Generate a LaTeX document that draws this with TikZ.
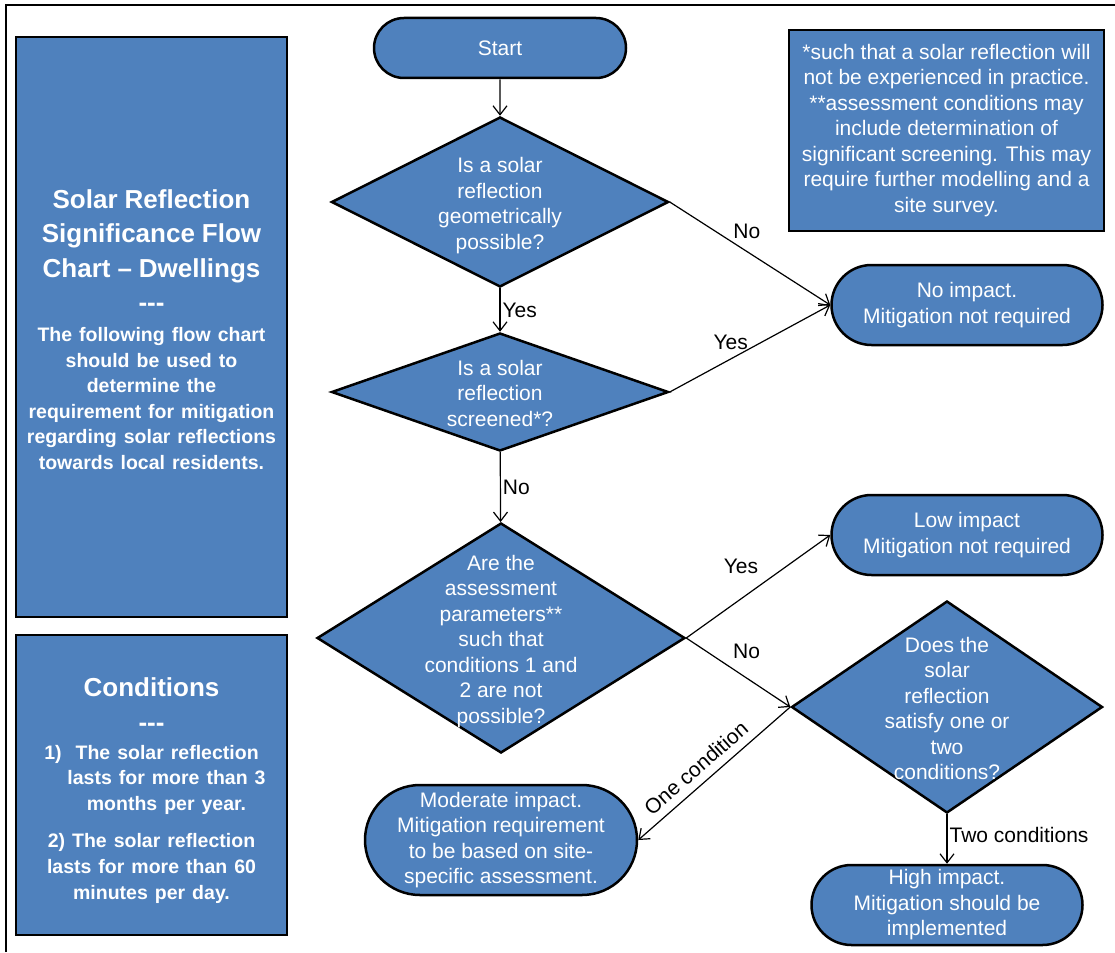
\documentclass[tikz,border=0pt]{standalone}
\usepackage{fontspec}
\setmainfont{Liberation Sans}
\usetikzlibrary{arrows.meta, shapes.geometric, shapes.misc, positioning}

\definecolor{boxblue}{HTML}{4F81BD}
\newcommand{\bodyfont}{\fontsize{21}{25.5}\selectfont}
\newcommand{\headfont}{\bfseries\fontsize{26}{34.5}\selectfont}
\newcommand{\sidefont}{\bfseries\fontsize{19.5}{25.6}\selectfont}
\newcommand{\qtext}[1]{\smash{\raisebox{-9pt}{\begin{tabular}{@{}c@{}}#1\end{tabular}}}}

\begin{document}
\begin{tikzpicture}[x=1pt, y=-1pt, font=\bodyfont,
    blk/.style={draw=black, line width=2.5pt, fill=boxblue, text=white, align=center},
    term/.style={blk, rounded rectangle, minimum width=271pt, minimum height=80pt, inner sep=0pt},
    decide/.style={blk, diamond, inner sep=0pt},
    panel/.style={blk, rectangle, inner sep=0pt},
    arr/.style={line width=1.2pt, -{Straight Barb[length=9pt,width=14pt]}},
    lbl/.style={text=black, inner sep=2pt}]
    \useasboundingbox (0,0) rectangle (1115,952);
    % Cadre
    \draw[line width=2pt] (6,952) -- (6,5) -- (1115,5);

    % Panneaux
    \node[panel, minimum width=271pt, minimum height=580pt, text width=265pt] (title) at (151.5,327)
        {{\headfont \rule{0pt}{24pt}Solar Reflection\\ Significance Flow\\ Chart – Dwellings\\ -{}-{}-\par}\vspace{4pt}
         {\sidefont The following flow chart\\ should be used to\\ determine the\\ requirement for mitigation\\ regarding solar reflections\\ towards local residents.\par}};
    \node[panel, minimum width=271pt, minimum height=300pt, text width=265pt] (cond) at (151.5,785)
        {{\headfont \rule{0pt}{30pt}Conditions\\ -{}-{}-\par}\vspace{2pt}
         {\sidefont 1)\ \ The solar reflection\\ \hspace*{30pt}lasts for more than 3\\ \hspace*{30pt}months per year.\par}\vspace{12pt}
         {\sidefont 2) The solar reflection\\ lasts for more than 60\\ minutes per day.\par}};
    \node[panel, minimum width=315pt, minimum height=201pt] (note) at (946.5,130.5)
        {*such that a solar reflection will\\ not be experienced in practice.\\ **assessment conditions may\\ include determination of\\ significant screening. This may\\ require further modelling and a\\ site survey.};

    % Noeuds du diagramme
    \node[term, minimum width=252pt, minimum height=60pt] (start) at (500,48) {Start};
    \node[decide, minimum width=337pt, minimum height=170pt] (geom) at (500,202)
        {\qtext{Is a solar\\ reflection\\ geometrically\\ possible?}};
    \node[decide, minimum width=337pt, minimum height=118pt] (screen) at (500,392)
        {\qtext{Is a solar\\ reflection\\ screened*?}};
    \node[decide, minimum width=368pt, minimum height=230pt] (param) at (501,638)
        {\qtext{Are the\\ assessment\\ parameters**\\ such that\\ conditions 1 and\\ 2 are not\\ possible?}};
    \node[decide, minimum width=311pt, minimum height=212pt] (sat) at (947,707)
        {\qtext{Does the\\ solar\\ reflection\\ satisfy one or\\ two\\ conditions?}};
    \node[term] (noimp) at (967,305) {No impact.\\ Mitigation not required};
    \node[term] (low) at (967,535) {Low impact\\ Mitigation not required};
    \node[term, minimum width=272pt, minimum height=110pt] (mod) at (501,840)
        {Moderate impact.\\ Mitigation requirement\\ to be based on site-\\ specific assessment.};
    \node[term] (high) at (947,905) {High impact.\\ Mitigation should be\\ implemented};

    % Fleches
    \draw[arr] (start) -- (geom);
    \draw[arr] (geom) -- node[lbl, right, pos=0.5] {Yes} (screen);
    \draw[arr] (screen) -- node[lbl, right, pos=0.5] {No} (param);
    \draw[arr] (geom.east) -- node[lbl, pos=0.48, above=10pt] {No} (noimp.west);
    \draw[arr] (screen.east) -- node[lbl, pos=0.38, above=7pt] {Yes} (noimp.west);
    \draw[arr] (param.east) -- node[lbl, pos=0.38, above=23pt] {Yes} (low.west);
    \draw[arr] (param.east) -- node[lbl, pos=0.58, above=17pt] {No} (sat.west);
    \draw[arr] (sat.west) -- node[lbl, pos=0.55, sloped, above=6pt] {One condition} (mod.east);
    \draw[arr] (sat.south) -- node[lbl, pos=0.42, right] {Two conditions} (high.north);
\end{tikzpicture}
\end{document}
